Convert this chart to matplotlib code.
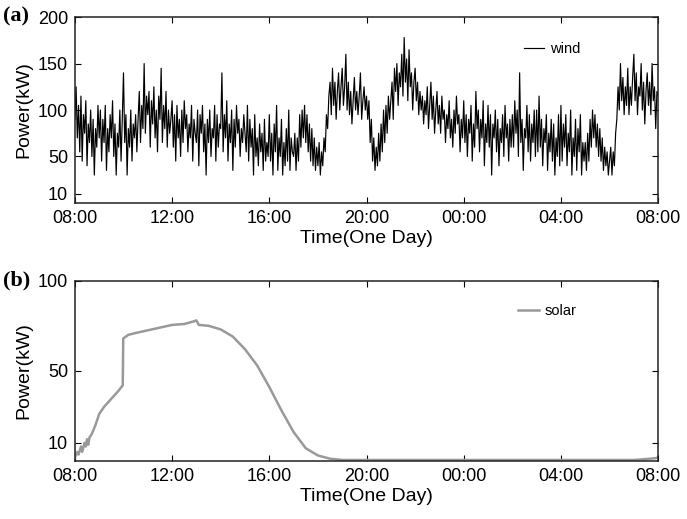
import matplotlib
matplotlib.use("Agg")
import matplotlib.pyplot as plt
import numpy as np

plt.rcParams['font.family'] = ['Liberation Sans', 'DejaVu Sans']

# wind power, one value every 3 minutes starting 08:00 (kW)
wind = [
    90, 125, 70, 105, 55, 115, 45, 95, 75, 110, 40, 85, 65, 100, 50, 90, 30, 80, 60, 105,      # 08
    70, 100, 45, 90, 65, 105, 35, 80, 55, 95, 70, 110, 50, 85, 30, 75, 60, 100, 45, 90,        # 09
    140, 65, 95, 30, 80, 60, 100, 45, 85, 70, 95, 55, 90, 120, 65, 105, 80, 150, 75, 115,      # 10
    95, 120, 60, 110, 85, 125, 70, 100, 55, 115, 90, 145, 65, 105, 80, 120, 60, 100, 75, 90,   # 11
    110, 60, 95, 45, 105, 70, 90, 50, 100, 65, 110, 80, 95, 55, 85, 70, 105, 45, 90, 75,       # 12
    65, 100, 40, 95, 75, 105, 55, 85, 30, 90, 65, 100, 50, 80, 70, 105, 45, 95, 60, 85,        # 13
    80, 140, 55, 95, 70, 110, 45, 85, 65, 100, 35, 90, 60, 105, 75, 90, 50, 80, 65, 95,        # 14
    75, 55, 105, 45, 90, 60, 80, 30, 95, 50, 70, 40, 85, 55, 75, 35, 90, 45, 65, 50,           # 15
    95, 45, 75, 30, 85, 55, 105, 35, 70, 50, 90, 30, 65, 40, 80, 45, 100, 35, 70, 55,          # 16
    50, 75, 35, 70, 45, 95, 60, 100, 70, 105, 65, 95, 55, 85, 45, 80, 40, 70, 35, 60,          # 17
    40, 65, 30, 55, 40, 70, 55, 95, 80, 115, 130, 95, 145, 105, 130, 90, 120, 140, 100, 125,   # 18
    145, 105, 125, 160, 100, 130, 95, 120, 85, 110, 135, 100, 120, 95, 115, 140, 90, 110, 125, 100,  # 19
    115, 90, 110, 65, 90, 45, 70, 35, 60, 40, 75, 45, 85, 55, 100, 65, 105, 75, 115, 90,       # 20
    110, 130, 90, 145, 120, 150, 105, 140, 125, 160, 115, 178, 130, 155, 110, 165, 125, 140, 100, 130,  # 21
    145, 110, 130, 95, 120, 100, 115, 85, 110, 95, 125, 80, 105, 130, 90, 115, 75, 100, 120, 85,  # 22
    105, 75, 115, 90, 100, 65, 95, 80, 110, 70, 90, 60, 100, 75, 115, 85, 95, 55, 90, 70,      # 23
    110, 65, 95, 50, 90, 75, 105, 45, 85, 60, 120, 80, 100, 55, 90, 70, 110, 40, 85, 65,       # 00
    105, 60, 95, 30, 85, 70, 100, 55, 90, 40, 80, 65, 95, 50, 105, 70, 85, 45, 90, 60,         # 01
    95, 60, 110, 75, 100, 50, 140, 65, 90, 35, 80, 70, 105, 55, 95, 45, 85, 65, 100, 50,       # 02
    100, 55, 115, 60, 90, 40, 80, 65, 95, 35, 75, 55, 90, 45, 85, 30, 70, 50, 95, 40,          # 03
    105, 45, 85, 60, 95, 40, 75, 55, 100, 30, 70, 50, 90, 35, 80, 55, 95, 30, 65, 45,          # 04
    65, 35, 75, 45, 90, 60, 100, 70, 95, 60, 85, 50, 80, 45, 70, 35, 60, 40, 55, 30,           # 05
    45, 60, 30, 55, 40, 75, 90, 125, 100, 150, 110, 135, 95, 125, 105, 145, 95, 125, 105, 135,  # 06
    160, 110, 140, 95, 125, 115, 150, 100, 130, 85, 120, 140, 105, 130, 95, 150, 110, 125, 80, 120,  # 07
    115,
]
wind_t = np.arange(len(wind)) / 20.0

# solar power, hours after 08:00 (kW)
solar_t = [0, 0.1, 0.15, 0.25, 0.3, 0.4, 0.45, 0.5, 0.55, 0.6, 0.7, 0.85, 1.0,
           1.2, 1.4, 1.6, 1.8, 1.97, 1.99, 2.2, 2.5, 3.0, 3.5, 4.0, 4.5, 4.9,
           5.0, 5.1, 5.5, 6.0, 6.5, 7.0, 7.5, 8.0, 8.5, 9.0, 9.5, 10.0, 10.5,
           11.0, 23.0, 23.5, 23.9, 24.0]
solar = [2, 5, 3.5, 8, 5, 10, 8, 12, 9, 13, 15, 20, 26,
         30, 33, 36, 39, 42, 68, 70, 71, 72.5, 74, 75.5, 76, 77.5,
         78, 75.5, 75, 73, 69, 62, 53, 41, 28, 16, 7, 3, 1.2,
         0.5, 0.5, 1, 1.5, 2]

xticks = [0, 4, 8, 12, 16, 20, 24]
xlabels = ['08:00', '12:00', '16:00', '20:00', '00:00', '04:00', '08:00']

fig = plt.figure(figsize=(6.87, 5.19), dpi=100)
ax1 = fig.add_axes([0.109, 0.609, 0.849, 0.358])
ax2 = fig.add_axes([0.109, 0.112, 0.849, 0.347])

ax1.plot(wind_t, wind, color='black', lw=0.85, label='wind')
ax1.set_ylim(0, 200)
ax1.set_yticks([10, 50, 100, 150, 200])

ax2.plot(solar_t, solar, color='#999999', lw=1.8, label='solar')
ax2.set_ylim(0, 100)
ax2.set_yticks([10, 50, 100])

for ax in (ax1, ax2):
    ax.set_xlim(0, 24)
    ax.set_xticks(xticks)
    ax.set_xticklabels(xlabels)
    ax.tick_params(direction='in', top=True, right=True, length=4,
                   labelsize=13, pad=5)
    ax.set_xlabel('Time(One Day)', fontsize=14, labelpad=2)
    ax.set_ylabel('Power(kW)', fontsize=14, labelpad=4)
    for s in ax.spines.values():
        s.set_linewidth(1.1)
        s.set_color('#222222')

ax1.legend(loc='center left', bbox_to_anchor=(0.77, 0.83), frameon=False,
           fontsize=10.5, handlelength=1.4, handletextpad=0.4, borderpad=0,
           borderaxespad=0)
ax2.legend(loc='center left', bbox_to_anchor=(0.76, 0.83), frameon=False,
           fontsize=10.5, handlelength=1.4, handletextpad=0.4, borderpad=0,
           borderaxespad=0)

fig.text(0.004, 0.968, '(a)', family='Liberation Serif', weight='bold',
         fontsize=16, va='center')
fig.text(0.004, 0.459, '(b)', family='Liberation Serif', weight='bold',
         fontsize=16, va='center')

fig.savefig('out.png', dpi=100)
